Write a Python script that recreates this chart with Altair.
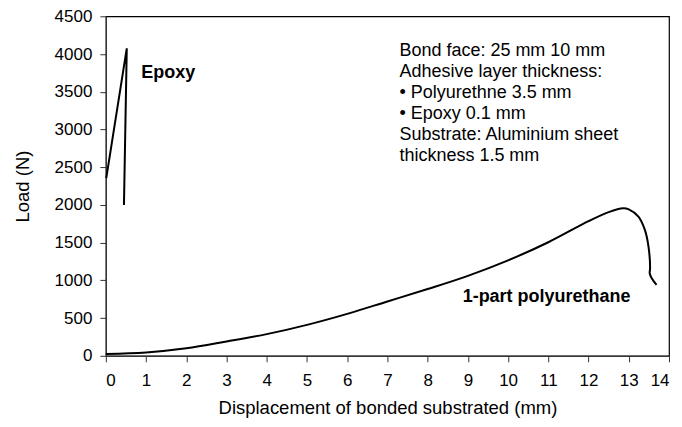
import altair as alt
import pandas as pd

# Epoxy curve (displacement mm, load N)
epoxy_x = [0.01, 0.52, 0.45]
epoxy_y = [2356, 4076, 1998]

# 1-part polyurethane curve
pu_x = [0.0, 1.0, 2.0, 3.0, 4.0, 5.0, 6.0, 7.0, 8.0, 9.0, 10.0, 11.0, 12.0,
        12.5, 12.86, 13.0, 13.24, 13.4, 13.49, 13.53, 13.52, 13.57, 13.69]
pu_y = [25, 45, 100, 190, 287, 410, 556, 720, 885, 1060, 1265, 1505, 1785,
        1905, 1955, 1941, 1844, 1668, 1447, 1161, 1094, 1028, 940]

x_ticks = list(range(0, 15))
y_ticks = list(range(0, 4501, 500))

labels_text = ["Epoxy", "1-part polyurethane"]
labels_x = [0.88, 8.87]
labels_y = [3746, 777]

note_lines = ["Bond face: 25 mm 10 mm", "Adhesive layer thickness:",
              "• Polyurethne 3.5 mm", "• Epoxy 0.1 mm",
              "Substrate: Aluminium sheet", "thickness 1.5 mm"]

FONT = "Liberation Sans"

df = pd.concat([
    pd.DataFrame({"x": epoxy_x, "y": epoxy_y, "series": "Epoxy",
                  "order": range(len(epoxy_x))}),
    pd.DataFrame({"x": pu_x, "y": pu_y, "series": "PU",
                  "order": range(len(pu_x))}),
])

xs = alt.Scale(domain=[0, 14], nice=False)
ys = alt.Scale(domain=[0, 4500], nice=False)
xax = alt.Axis(values=x_ticks, format="d", labelOverlap=False,
               title="Displacement of bonded substrated (mm)")
yax = alt.Axis(values=y_ticks, format="d", labelOverlap=False, title="Load (N)")


def X():
    return alt.X("x:Q", scale=xs, axis=xax)


def Y():
    return alt.Y("y:Q", scale=ys, axis=yax)


epoxy = alt.Chart(df[df.series == "Epoxy"]).mark_line(
    color="black", strokeWidth=2
).encode(x=X(), y=Y(), order="order:O")

pu = alt.Chart(df[df.series == "PU"]).mark_line(
    color="black", strokeWidth=2, interpolate="catmull-rom"
).encode(x=X(), y=Y(), order="order:O")

lab = alt.Chart(pd.DataFrame({"x": labels_x, "y": labels_y, "t": labels_text})).mark_text(
    font=FONT, fontSize=18, fontWeight="bold", align="left", baseline="middle", color="black"
).encode(x=X(), y=Y(), text="t:N")

note = alt.Chart(pd.DataFrame({"x": [7.3], "y": [4040], "t": ["\n".join(note_lines)]})).mark_text(
    font=FONT, fontSize=18, align="left", baseline="middle", color="black",
    lineBreak="\n", lineHeight=21
).encode(x=X(), y=Y(), text="t:N")

chart = alt.layer(epoxy, pu, lab, note).properties(
    width=564, height=340,
    autosize=alt.AutoSizeParams(type="none"),
    padding={"left": 98, "top": 8, "right": 5, "bottom": 64},
).configure_view(
    stroke="black", strokeWidth=1.2
).configure_axis(
    grid=False, domainColor="#333", tickColor="#333", tickSize=6,
    labelFont=FONT, labelFontSize=17, labelColor="black",
    titleFont=FONT, titleFontSize=18.5, titleFontWeight="normal", titleColor="black",
).configure_axisY(titlePadding=22, labelPadding=8).configure_axisX(titlePadding=10, labelPadding=11)

chart.save("out.html", embed_options={"renderer": "svg", "actions": False})
